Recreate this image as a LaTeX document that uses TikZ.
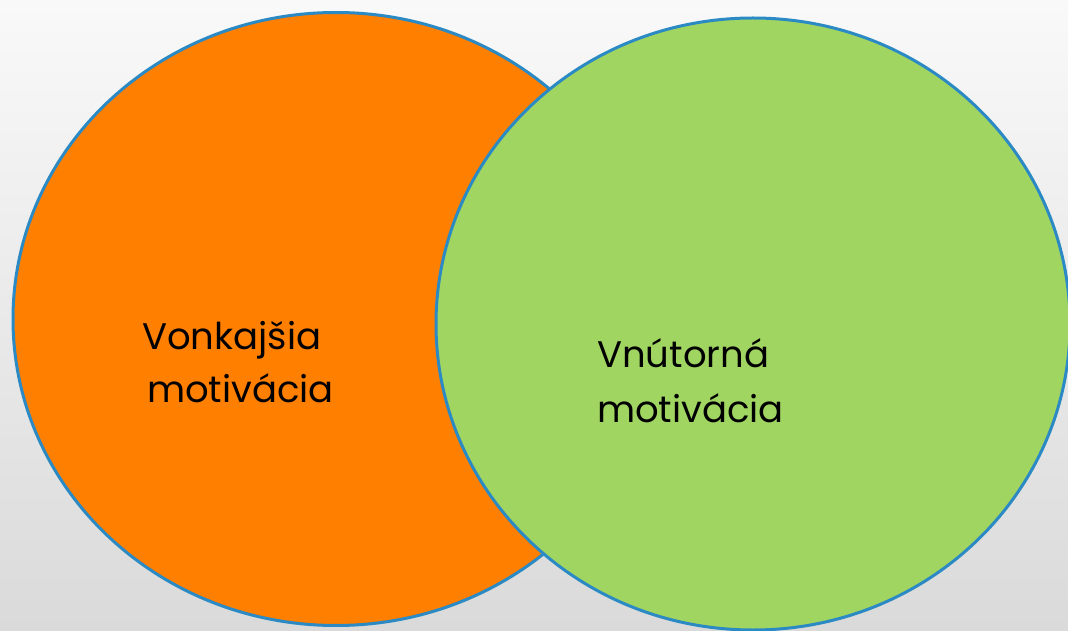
\documentclass[tikz,border=0pt]{standalone}
\usepackage{fontspec}
\setmainfont{Poppins}
\usetikzlibrary{shapes.geometric}
\definecolor{bgtop}{HTML}{F9F9F9}
\definecolor{bgbot}{HTML}{DADADA}
\definecolor{orangefill}{HTML}{FF7F00}
\definecolor{greenfill}{HTML}{A1D562}
\definecolor{rimblue}{HTML}{2B8AC4}
\tikzset{
  blob/.style={ellipse, draw=rimblue, line width=3pt, inner sep=0pt},
  label/.style={anchor=base west, inner sep=0pt, font=\fontsize{37}{40}\selectfont, text=black}
}
\begin{document}
\begin{tikzpicture}[x=1pt,y=1pt]
\useasboundingbox (0,0) rectangle (1068,630);
\clip (0,0) rectangle (1068,630);
\shade[top color=bgtop, bottom color=bgbot] (0,0) rectangle (1068,630);
\node[blob, fill=orangefill, minimum width=646pt, minimum height=613pt] (outer) at (336,311) {};
\node[blob, fill=greenfill, minimum width=634pt, minimum height=612pt] (inner) at (753,306) {};
\node[label] (l1) at (142,280) {Vonkajšia};
\node[label] (l2) at (147,228) {motivácia};
\node[label] (r1) at (597,263) {Vnútorná};
\node[label] (r2) at (597,208) {motivácia};
\end{tikzpicture}
\end{document}
